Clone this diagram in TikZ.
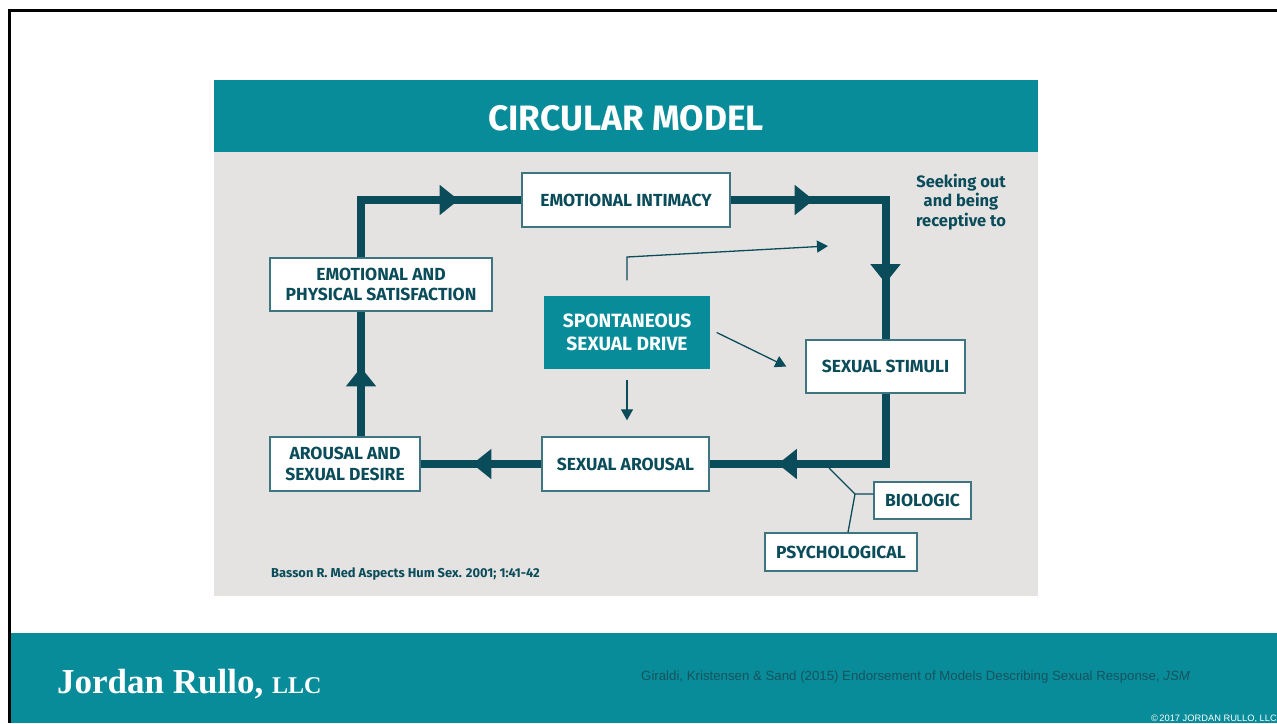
\documentclass[tikz,border=0pt]{standalone}
\usepackage{fontspec}
\setmainfont{Fira Sans}
\newfontfamily\serifb{Liberation Serif}
\newfontfamily\arial{Liberation Sans}
\usetikzlibrary{arrows.meta,decorations.markings,calc}
\definecolor{hdteal}{HTML}{088C99}
\definecolor{panel}{HTML}{E4E3E1}
\definecolor{dk}{HTML}{0B4C5A}
\definecolor{bordc}{HTML}{3D7580}
\definecolor{citec}{HTML}{15535E}
\tikzset{
  box/.style={draw=bordc, line width=1.4pt, fill=white, text=dk, align=center,
    font=\bfseries\fontsize{17.5}{20.5}\selectfont, inner sep=0pt},
  mainline/.style={color=dk, line width=8pt},
  mainarrow/.style={postaction={decorate, decoration={markings,
    mark=at position #1 with {\arrow{Triangle[width=29pt,length=19pt]}}}}},
  thinline/.style={draw=dk, line width=1.3pt},
  thinarrow/.style={thinline, -{Triangle[width=12pt,length=11pt]}},
}
\begin{document}
\begin{tikzpicture}[x=1pt,y=-1pt]
\useasboundingbox (0,0) rectangle (1277,723);
\fill[white] (0,0) rectangle (1277,723);
% footer
\fill[hdteal] (10,633) rectangle (1277,723);
\draw[black, line width=2.5pt] (9.5,723) -- (9.5,10.5) -- (1277,10.5);
\node[anchor=base west, text=white, inner sep=0pt] (brand) at (57,693)
  {\serifb\bfseries\fontsize{35}{40}\selectfont Jordan Rullo, {\fontsize{24}{26}\selectfont LLC}};
\node[anchor=base west, text=citec, inner sep=0pt] (cite) at (641,680)
  {\arial\fontsize{13.25}{15}\selectfont Giraldi, Kristensen \& Sand (2015) Endorsement of Models Describing Sexual Response, \textit{JSM}};
\node[anchor=base east, text=white, inner sep=0pt] (copy) at (1277,721)
  {\arial\fontsize{9.3}{10}\selectfont \textcopyright\,2017 JORDAN RULLO, LLC};
% panel
\fill[panel] (214,80) rectangle (1038,596);
\fill[hdteal] (214,80) rectangle (1038,152);
\node[text=white, font=\bfseries\fontsize{35.3}{40}\selectfont] (title) at (626,118) {CIRCULAR MODEL};
% boxes
\node[box, minimum width=208pt, minimum height=54pt] (intim) at (626,200) {EMOTIONAL INTIMACY};
\node[box, minimum width=222pt, minimum height=53pt] (satis) at (381,284.5) {EMOTIONAL AND\\PHYSICAL SATISFACTION};
\node[box, draw=hdteal, fill=hdteal, text=white, font=\bfseries\fontsize{19.2}{22.5}\selectfont,
  minimum width=164pt, minimum height=71pt] (spont) at (627,332.5) {SPONTANEOUS\\SEXUAL DRIVE};
\node[box, minimum width=159pt, minimum height=53pt] (stim) at (885.5,366.5) {SEXUAL STIMULI};
\node[box, minimum width=167pt, minimum height=54pt] (sarou) at (625.5,464) {SEXUAL AROUSAL};
\node[box, minimum width=150pt, minimum height=54pt] (desire) at (345,464) {AROUSAL AND\\SEXUAL DESIRE};
\node[box, minimum width=97pt, minimum height=37pt] (bio) at (922.5,500.5) {BIOLOGIC};
\node[box, minimum width=152pt, minimum height=38pt] (psy) at (841,552) {PSYCHOLOGICAL};
\node[text=dk, align=center, font=\bfseries\fontsize{16.5}{19.5}\selectfont, inner sep=0pt] (seek) at (961,202)
  {Seeking out\\and being\\receptive to};
\node[anchor=base west, text=dk, font=\bfseries\fontsize{12.9}{15}\selectfont, inner sep=0pt] (basson) at (271,577)
  {Basson R. Med Aspects Hum Sex. 2001; 1:41-42};
% main loop
\coordinate (lx) at (361,0);
\coordinate (rx) at (885,0);
\draw[mainline, mainarrow=69pt] (desire.north -| lx) -- (satis.south -| lx);
\draw[mainline, mainarrow=155pt] (satis.north -| lx) |- (intim.west);
\draw[mainline, mainarrow=83pt, postaction={decorate, decoration={markings,
    mark=at position 238pt with {\arrow{Triangle[width=29pt,length=19pt]}}}}]
  (intim.east) -| (stim.north);
\draw[mainline, mainarrow=178pt] (stim.south) |- (sarou.east);
\draw[mainline, mainarrow=69pt] (sarou.west) -- (desire.east);
% thin arrows
\coordinate (up1) at (627,257);
\coordinate (seektip) at (828,246);
\draw[thinarrow] ($(spont.north)+(0,-16)$) -- (up1) -- (seektip);
\draw[thinarrow] ($(spont.east)+(7,0)$) -- ($(stim.west)+(-19,0)$);
\draw[thinarrow] ($(spont.south)+(0,11)$) -- ($(spont.south |- sarou.north)+(0,-16)$);
% biologic / psychological connector
\coordinate (bp) at (829,468);
\coordinate (j) at (855,494);
\draw[thinline] (bp) -- (j) -- (bio.west |- j);
\draw[thinline] (j) -- ($(psy.north)+(7,0)$);
\end{tikzpicture}
\end{document}
